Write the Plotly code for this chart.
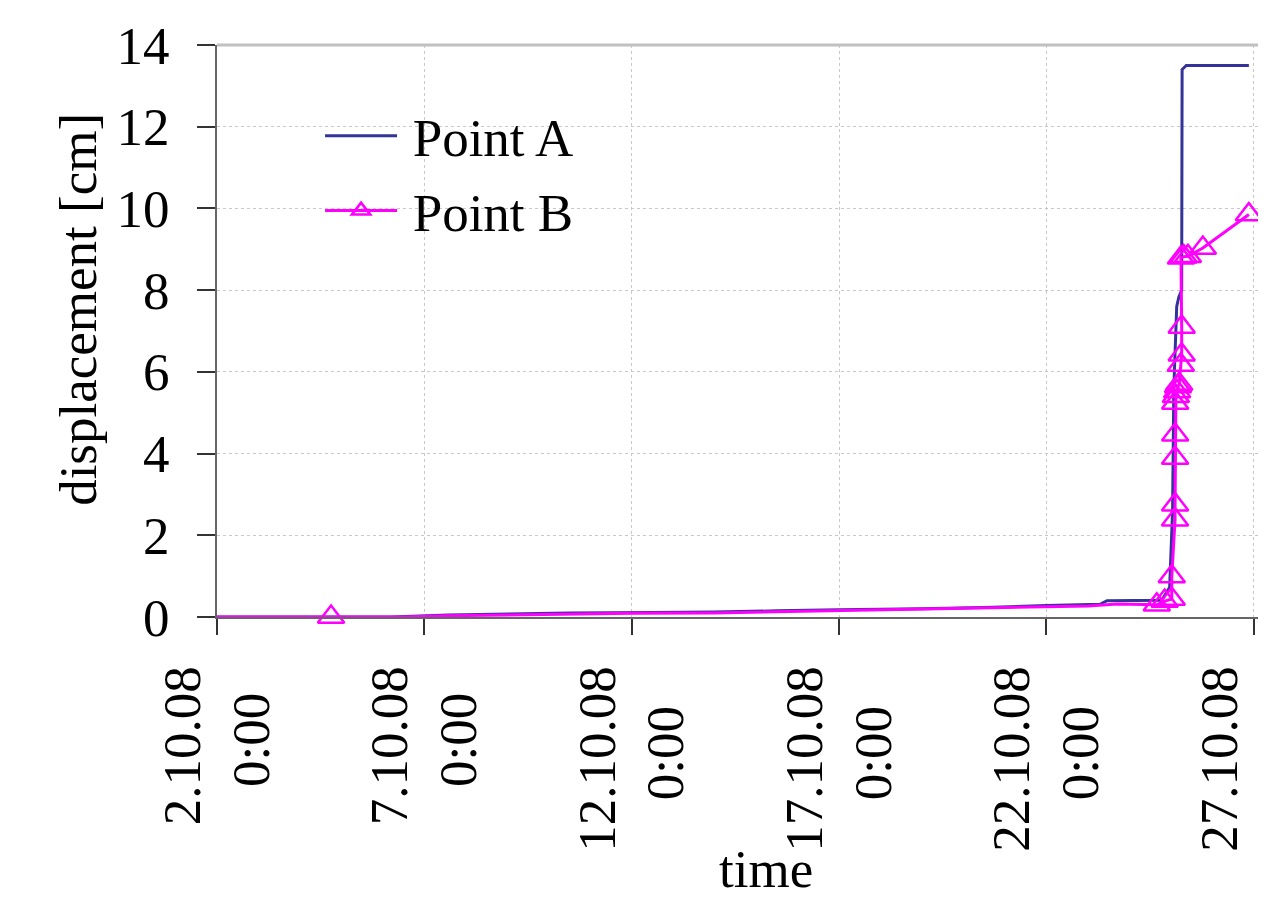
import plotly.graph_objects as go

# ---- data ----
a_time = ["2008-10-02 00:00", "2008-10-06 05:00", "2008-10-07 14:00", "2008-10-09 00:00",
          "2008-10-10 12:00", "2008-10-12 12:00", "2008-10-14 00:00", "2008-10-15 12:00",
          "2008-10-17 00:00", "2008-10-19 00:00", "2008-10-20 12:00", "2008-10-22 00:00",
          "2008-10-23 07:00", "2008-10-23 11:00", "2008-10-24 18:43", "2008-10-24 23:17",
          "2008-10-25 00:58", "2008-10-25 01:41", "2008-10-25 03:22", "2008-10-25 04:34",
          "2008-10-25 06:14", "2008-10-25 06:29", "2008-10-25 08:53", "2008-10-26 21:07"]
a_disp = [0.0, 0.0, 0.05, 0.07, 0.10, 0.11, 0.12, 0.15, 0.18, 0.20, 0.23, 0.28,
          0.31, 0.40, 0.41, 0.73, 2.6, 5.6, 7.6, 7.83, 8.0, 13.4, 13.5, 13.5]

b_time = ["2008-10-01 18:00", "2008-10-04 18:00", "2008-10-06 12:00", "2008-10-07 12:00",
          "2008-10-10 00:00", "2008-10-12 00:00", "2008-10-14 00:00", "2008-10-17 00:00",
          "2008-10-19 00:00", "2008-10-22 00:00", "2008-10-23 00:00", "2008-10-23 17:00",
          "2008-10-24 15:50", "2008-10-24 20:24", "2008-10-25 00:29", "2008-10-25 00:30",
          "2008-10-25 02:24", "2008-10-25 02:25", "2008-10-25 02:26", "2008-10-25 02:27",
          "2008-10-25 02:28", "2008-10-25 02:53", "2008-10-25 03:36", "2008-10-25 04:05",
          "2008-10-25 04:48", "2008-10-25 05:46", "2008-10-25 06:14", "2008-10-25 06:15",
          "2008-10-25 05:50", "2008-10-25 07:26", "2008-10-25 09:50", "2008-10-25 18:29",
          "2008-10-26 21:07"]
b_disp = [0.0, 0.0, 0.0, 0.03, 0.07, 0.09, 0.10, 0.16, 0.19, 0.25, 0.27, 0.32,
          0.30, 0.39, 0.44, 0.99, 2.38, 2.75, 3.89, 4.46, 5.24, 5.40, 5.52, 5.64,
          5.70, 6.17, 6.42, 7.10, 8.79, 8.82, 8.83, 9.03, 9.85]
b_marked = [False, True, False, False, False, False, False, False, False, False, False, False,
            True, True, True, True, True, True, True, True, True, True, True, True,
            True, True, True, True, True, True, True, True, True]

NB = "\u00a0"
tick_vals = ["2008-10-02", "2008-10-07", "2008-10-12", "2008-10-17", "2008-10-22", "2008-10-27"]
tick_dates = ["2.10.08", "7.10.08", "12.10.08", "17.10.08", "22.10.08", "27.10.08"]
tick_times = ["0:00", "0:00", "0:00", "0:00", "0:00", ""]
y_ticks = [0, 2, 4, 6, 8, 10, 12, 14]


def tick_label(date, time):
    if not time:
        return date + "<br>" + NB
    # pad the short line so that it sits centred under the date line
    pad = NB * (2 if len(date) <= 7 else 3)
    return date + "<br>" + time + pad


tick_text = [tick_label(d, t) for d, t in zip(tick_dates, tick_times)]

# ---- style ----
BLUE = "#333399"
MAG = "#FF00FF"
FONT = "Liberation Serif"
FS = 53
GAP = "\u2009"  # small gap between legend symbol and label

mk_time = [t for t, m in zip(b_time, b_marked) if m]
mk_disp = [v for v, m in zip(b_disp, b_marked) if m]

fig = go.Figure()
fig.add_trace(go.Scatter(x=a_time, y=a_disp, mode="lines", name=GAP + "Point A",
                         line=dict(color=BLUE, width=3), legendgroup="a"))
fig.add_trace(go.Scatter(x=b_time, y=b_disp, mode="lines", showlegend=False,
                         line=dict(color=MAG, width=3), legendgroup="b"))
fig.add_trace(go.Scatter(x=mk_time, y=mk_disp, mode="markers", showlegend=False,
                         marker=dict(symbol="triangle-up-open", size=23, color=MAG,
                                     line=dict(color=MAG, width=2.5)),
                         legendgroup="b", cliponaxis=False))
# legend entry for Point B (line + marker)
fig.add_trace(go.Scatter(x=[None], y=[None], mode="lines+markers", name=GAP + "Point B",
                         line=dict(color=MAG, width=3),
                         marker=dict(symbol="triangle-up-open", size=23, color=MAG,
                                     line=dict(color=MAG, width=2.5)),
                         legendgroup="b"))

# the page has an 8px body margin, so the figure is sized to fit the window
fig.update_layout(
    width=1250, height=898,
    margin=dict(l=209, r=0, t=37, b=289, autoexpand=False),
    paper_bgcolor="white", plot_bgcolor="white",
    font=dict(family=FONT, size=FS, color="black"),
    showlegend=True,
    legend=dict(x=0.099, y=0.913, xanchor="left", yanchor="top",
                bgcolor="rgba(0,0,0,0)", font=dict(family=FONT, size=FS),
                traceorder="grouped", tracegroupgap=3, itemwidth=72),
    xaxis=dict(type="date", range=["2008-10-02 00:00", "2008-10-27 02:24"],
               tickvals=tick_vals, ticktext=tick_text, tickangle=-90,
               ticks="outside", ticklen=16, tickcolor="#333333", tickwidth=1.5,
               showline=True, linecolor="#666666", linewidth=2,
               showgrid=True, gridcolor="#c8c8c8", griddash="dot", gridwidth=1,
               zeroline=False, ticklabelstandoff=10, automargin=False,
               ticklabeloverflow="allow",
               tickfont=dict(family=FONT, size=FS)),
    yaxis=dict(range=[0, 14], tickvals=y_ticks,
               ticks="outside", ticklen=18, tickcolor="#333333", tickwidth=1.5,
               showline=True, linecolor="#666666", linewidth=2,
               showgrid=True, gridcolor="#c8c8c8", griddash="dot", gridwidth=1,
               zeroline=False, ticklabelstandoff=17, automargin=False,
               tickfont=dict(family=FONT, size=FS)),
)
# top border of plot area
fig.add_shape(type="line", xref="paper", yref="paper", x0=0, x1=1, y0=1, y1=1,
              line=dict(color="#c0c0c0", width=3))
# axis titles
fig.add_annotation(text="displacement [cm]", xref="paper", yref="paper",
                   x=-0.1335, y=0.537, textangle=-90, showarrow=False,
                   xanchor="center", yanchor="middle",
                   font=dict(family=FONT, size=FS))
fig.add_annotation(text="time", xref="paper", yref="paper",
                   x=0.527, y=-0.44, showarrow=False,
                   xanchor="center", yanchor="middle",
                   font=dict(family=FONT, size=FS))

fig.write_html("out.html")
